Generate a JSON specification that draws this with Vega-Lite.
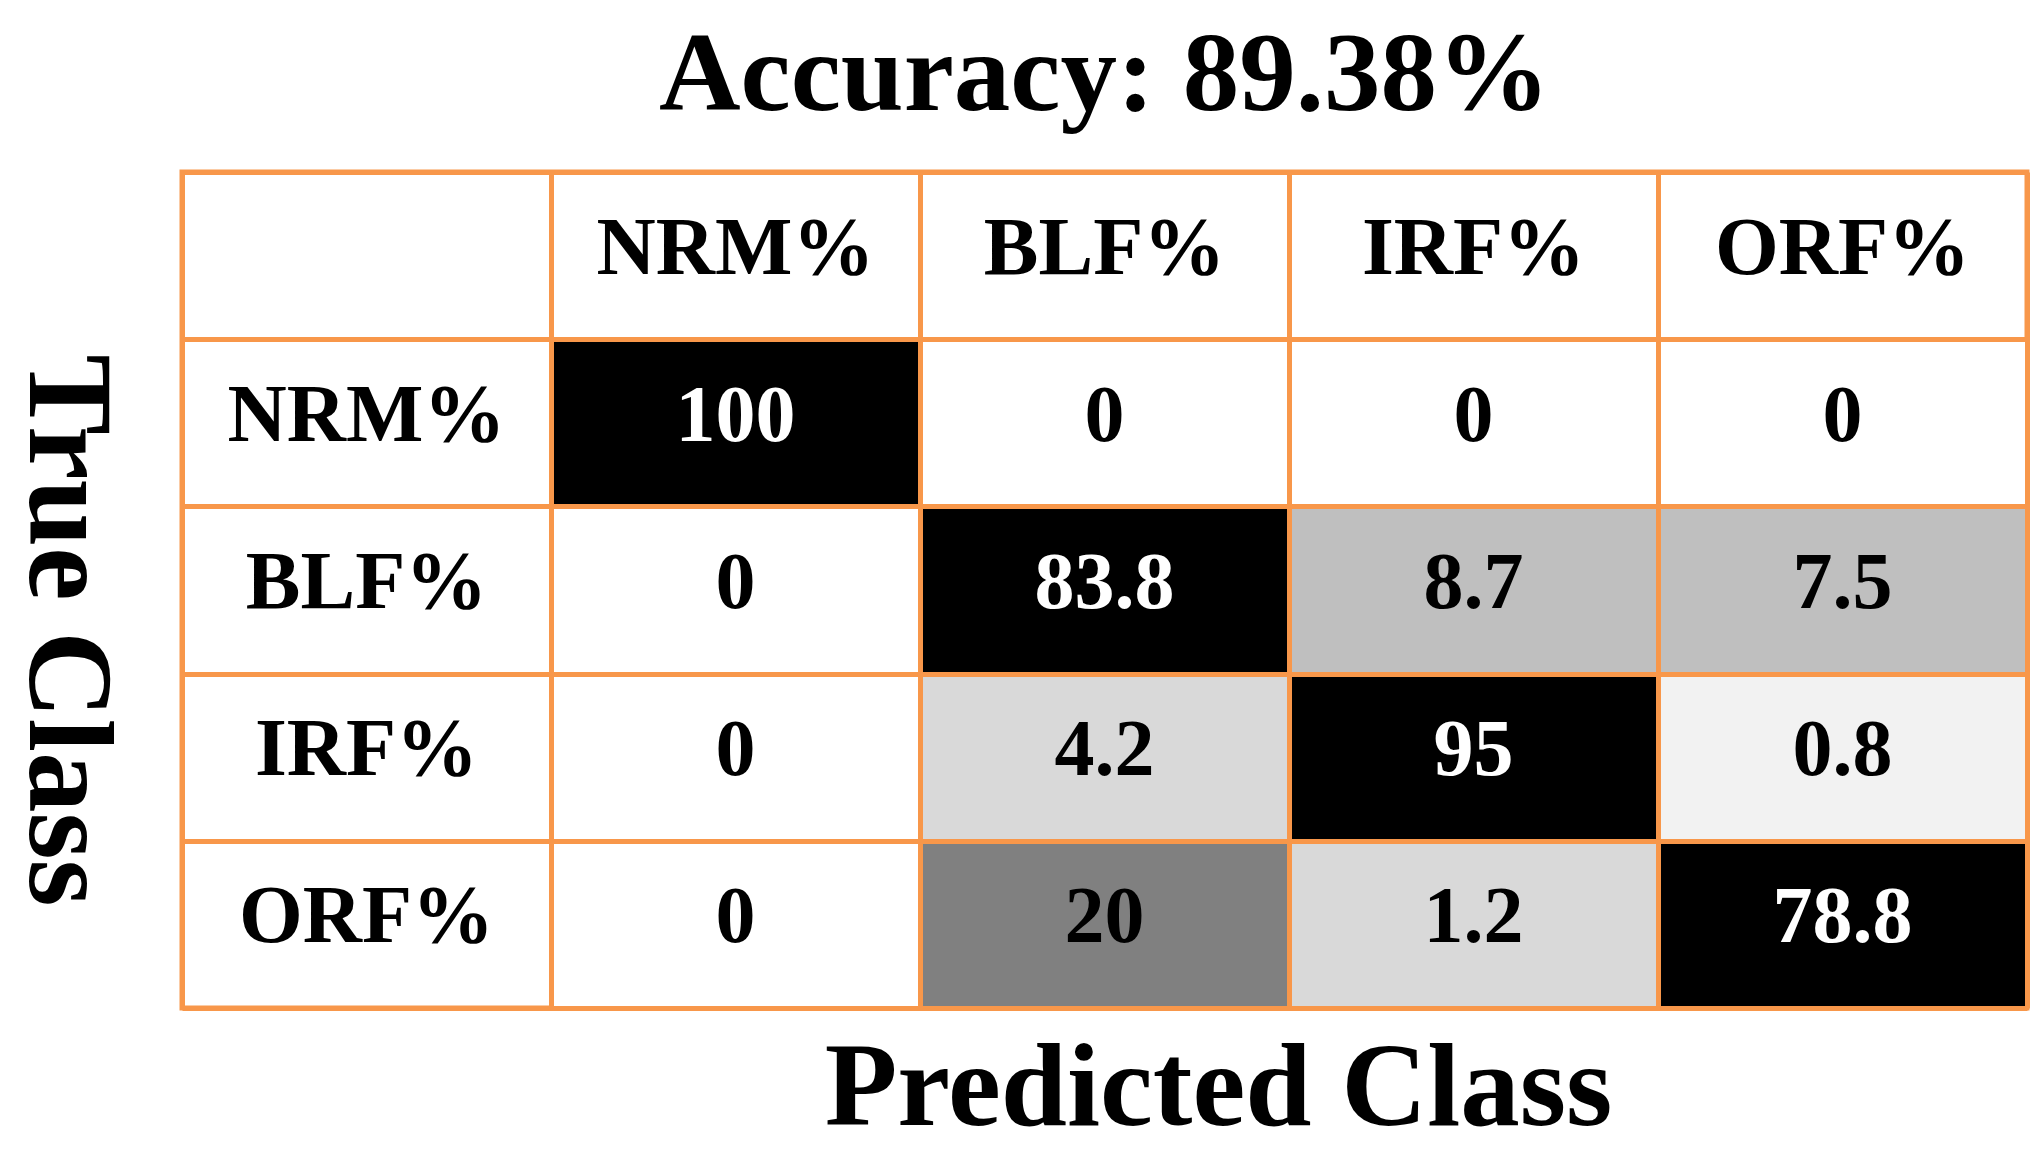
{
  "$schema": "https://vega.github.io/schema/vega-lite/v6.json",
  "autosize": {"type": "none"},
  "width": 1845,
  "height": 836,
  "padding": {"left": 182, "top": 172, "right": 17, "bottom": 143},
  "background": "white",
  "title": {
    "text": "Accuracy: 89.38%",
    "font": "Liberation Serif",
    "fontWeight": "bold",
    "fontSize": 113,
    "color": "#000000",
    "anchor": "middle",
    "frame": "group",
    "baseline": "alphabetic",
    "offset": -51
  },
  "config": {
    "view": {"stroke": "#f8974a", "strokeWidth": 5},
    "axis": {
      "labels": false,
      "ticks": false,
      "domain": false,
      "grid": true,
      "gridColor": "#f8974a",
      "gridWidth": 5,
      "gridOpacity": 1,
      "tickBand": "extent",
      "titleFont": "Liberation Serif",
      "titleFontWeight": "bold",
      "titleColor": "#000000"
    }
  },
  "datasets": {
    "cells": [
      {"t": "NRM%", "p": "NRM%", "v": 100},
      {"t": "NRM%", "p": "BLF%", "v": 0},
      {"t": "NRM%", "p": "IRF%", "v": 0},
      {"t": "NRM%", "p": "ORF%", "v": 0},
      {"t": "BLF%", "p": "NRM%", "v": 0},
      {"t": "BLF%", "p": "BLF%", "v": 83.8},
      {"t": "BLF%", "p": "IRF%", "v": 8.7},
      {"t": "BLF%", "p": "ORF%", "v": 7.5},
      {"t": "IRF%", "p": "NRM%", "v": 0},
      {"t": "IRF%", "p": "BLF%", "v": 4.2},
      {"t": "IRF%", "p": "IRF%", "v": 95},
      {"t": "IRF%", "p": "ORF%", "v": 0.8},
      {"t": "ORF%", "p": "NRM%", "v": 0},
      {"t": "ORF%", "p": "BLF%", "v": 20},
      {"t": "ORF%", "p": "IRF%", "v": 1.2},
      {"t": "ORF%", "p": "ORF%", "v": 78.8}
    ],
    "headers": [
      {"t": "hdr", "p": "NRM%", "label": "NRM%"},
      {"t": "hdr", "p": "BLF%", "label": "BLF%"},
      {"t": "hdr", "p": "IRF%", "label": "IRF%"},
      {"t": "hdr", "p": "ORF%", "label": "ORF%"},
      {"t": "NRM%", "p": "hdr", "label": "NRM%"},
      {"t": "BLF%", "p": "hdr", "label": "BLF%"},
      {"t": "IRF%", "p": "hdr", "label": "IRF%"},
      {"t": "ORF%", "p": "hdr", "label": "ORF%"}
    ]
  },
  "layer": [
    {
      "data": {"name": "cells"},
      "mark": {"type": "rect"},
      "encoding": {
        "x": {
          "field": "p", "type": "nominal",
          "scale": {"domain": ["hdr", "NRM%", "BLF%", "IRF%", "ORF%"], "paddingInner": 0, "paddingOuter": 0},
          "axis": {"orient": "bottom", "zindex": 1, "title": "Predicted Class", "titleFontSize": 119, "titleX": 1036, "titleY": 116, "titleAlign": "center", "titleBaseline": "alphabetic"}
        },
        "y": {
          "field": "t", "type": "nominal",
          "scale": {"domain": ["hdr", "NRM%", "BLF%", "IRF%", "ORF%"], "paddingInner": 0, "paddingOuter": 0},
          "axis": {"orient": "left", "zindex": 1, "title": "True Class", "titleFontSize": 121, "titleAngle": 90, "titleX": -153, "titleY": 458, "titleAlign": "center", "titleBaseline": "alphabetic"}
        },
        "color": {
          "field": "v", "type": "quantitative",
          "scale": {"type": "threshold", "domain": [0.5, 1, 5, 10, 50], "range": ["#ffffff", "#f2f2f2", "#d9d9d9", "#bfbfbf", "#808080", "#000000"]},
          "legend": null
        }
      }
    },
    {
      "data": {"name": "cells"},
      "mark": {"type": "text", "font": "Liberation Serif", "fontWeight": "bold", "fontSize": 80, "baseline": "alphabetic", "dy": 18},
      "encoding": {
        "x": {"field": "p", "type": "nominal"},
        "y": {"field": "t", "type": "nominal"},
        "text": {"field": "v", "type": "nominal"},
        "color": {"condition": {"test": "datum.v > 50", "value": "#ffffff"}, "value": "#000000"}
      }
    },
    {
      "data": {"name": "headers"},
      "mark": {"type": "text", "font": "Liberation Serif", "fontWeight": "bold", "fontSize": 82, "baseline": "alphabetic", "dy": 18, "color": "#000000"},
      "encoding": {
        "x": {"field": "p", "type": "nominal"},
        "y": {"field": "t", "type": "nominal"},
        "text": {"field": "label", "type": "nominal"}
      }
    }
  ]
}
